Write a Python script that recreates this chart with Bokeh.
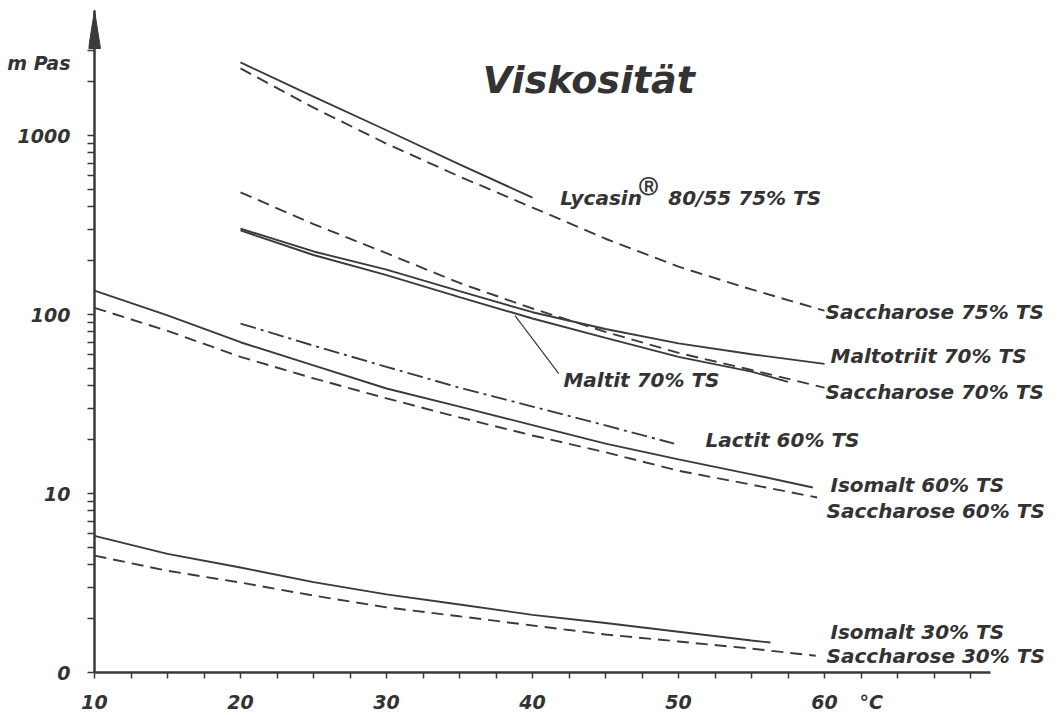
from bokeh.plotting import figure
from bokeh.models import FixedTicker, BasicTickFormatter
from bokeh.core.properties import value
from bokeh.embed import file_html
from bokeh.resources import INLINE

# ---------------- data (temperature in °C, viscosity in mPa·s) ----------------
lycasin_t = [20, 25, 30, 35, 40]
lycasin_v = [2560, 1650, 1070, 690, 450]
sac75_t = [20, 25, 30, 35, 40, 45, 50, 55, 60]
sac75_v = [2370, 1430, 900, 590, 396, 265, 185, 138, 105]
sac70_t = [20, 25, 30, 35, 40, 45, 50, 55, 60]
sac70_v = [481, 320, 220, 150, 108, 80, 61, 49, 39]
maltotriit_t = [20, 25, 30, 35, 40, 45, 50, 55, 60]
maltotriit_v = [302, 225, 178, 135, 103, 83, 69, 60, 53]
maltit_t = [20, 25, 30, 35, 40, 45, 50, 55, 57.5]
maltit_v = [295, 215, 166, 125, 95, 74, 58, 48, 42]
lactit_t = [20, 25, 30, 35, 40, 45, 49.7]
lactit_v = [89, 67, 51, 39, 30.6, 24, 19]
isomalt60_t = [10, 15, 20, 25, 30, 35, 40, 45, 50, 55, 59.2]
isomalt60_v = [136, 99, 70, 52, 38.6, 30.6, 24.1, 19, 15.5, 12.8, 10.8]
sac60_t = [10, 15, 20, 25, 30, 35, 40, 45, 50, 55, 59.5]
sac60_v = [109, 81, 58, 44, 34, 26.6, 21.1, 17, 13.4, 11.2, 9.5]
isomalt30_t = [10, 15, 20, 25, 30, 35, 40, 45, 50, 55, 56.3]
isomalt30_v = [5.8, 4.6, 3.86, 3.2, 2.73, 2.4, 2.1, 1.89, 1.69, 1.51, 1.47]
sac30_t = [10, 15, 20, 25, 30, 35, 40, 45, 50, 55, 59.4]
sac30_v = [4.5, 3.7, 3.18, 2.69, 2.31, 2.06, 1.83, 1.63, 1.49, 1.36, 1.24]

# tick values / labels (the unit names sit in the tick-label rows)
x_ticks = [10, 20, 30, 40, 50, 60, 63.2]
x_tick_labels = ["10", "20", "30", "40", "50", "60", "°C"]
x_tick_marks = [10, 12.5, 15, 17.5, 20, 22.5, 25, 27.5, 30, 32.5, 35, 37.5, 40,
                42.5, 45, 47.5, 50, 52.5, 55, 57.5, 60, 62.5, 65, 67.5, 70]
y_ticks = [1, 10, 100, 1000, 2525]
y_tick_labels = ["0", "10", "100", "1000", "m Pas"]
y_tick_marks = [1, 2, 3, 4, 5, 6, 7, 8, 9, 10, 20, 30, 40, 50, 60, 70, 80, 90,
                100, 200, 300, 400, 500, 600, 700, 800, 900, 1000, 2000, 3000]

# curve labels: (text, anchor temperature, anchor viscosity)
label_text = ["Lycasin", "80/55 75% TS", "Saccharose 75% TS", "Maltotriit 70% TS",
              "Saccharose 70% TS", "Maltit 70% TS", "Lactit 60% TS",
              "Isomalt 60% TS", "Saccharose 60% TS", "Isomalt 30% TS",
              "Saccharose 30% TS"]
label_t = [41.9, 49.3, 60.07, 60.41, 60.07, 42.12, 51.85, 60.41, 60.14, 60.41, 60.14]
label_v = [447, 447, 103, 59, 36.7, 42.8, 20, 11.2, 8.0, 1.69, 1.24]

# ---------------- layout constants ----------------
INK = "#333333"
LINE = "#3a3a3a"
FONT = "DejaVu Sans"
PX_PER_DEG = 14.6
PX_PER_DEC = 179.0
W, H = 1057, 715
AXIS_GAP = 6          # px between frame edge and drawn y axis line
LEFT = 94 - AXIS_GAP
BOTTOM = 43
FRAME_W = W - LEFT
FRAME_H = H - BOTTOM
x_start = 10 - AXIS_GAP / PX_PER_DEG
x_end = x_start + FRAME_W / PX_PER_DEG
y_end = 10 ** (FRAME_H / PX_PER_DEC)
x_axis_end = 71.4

p = figure(width=W, height=H, x_range=(x_start, x_end), y_range=(1, y_end),
           y_axis_type="log", output_backend="svg", toolbar_location=None,
           min_border_left=LEFT, min_border_right=0, min_border_top=0,
           min_border_bottom=BOTTOM)
p.outline_line_color = None
p.grid.visible = False
p.background_fill_color = "white"
p.border_fill_color = "white"

# x axis
xa = p.xaxis[0]
xa.ticker = FixedTicker(ticks=x_ticks, minor_ticks=x_tick_marks)
xa.major_label_overrides = {t: s for t, s in zip(x_ticks, x_tick_labels)}
xa.bounds = (10, x_axis_end)
xa.axis_line_color = LINE
xa.axis_line_width = 2.5
xa.major_tick_line_color = None
xa.major_tick_in = 0
xa.major_tick_out = 0
xa.minor_tick_in = 0
xa.minor_tick_out = 6
xa.minor_tick_line_color = LINE
xa.minor_tick_line_width = 1.5
xa.major_label_text_font = FONT
xa.major_label_text_font_style = "bold italic"
xa.major_label_text_font_size = "19px"
xa.major_label_text_color = INK
xa.major_label_standoff = 12

# y axis (its line is drawn separately at x = 10, ticks reach from frame edge)
ya = p.yaxis[0]
ya.ticker = FixedTicker(ticks=y_ticks, minor_ticks=y_tick_marks)
ya.formatter = BasicTickFormatter(use_scientific=False)
ya.major_label_overrides = {t: s for t, s in zip(y_ticks, y_tick_labels)}
ya.axis_line_color = None
ya.major_tick_line_color = None
ya.major_tick_in = 0
ya.major_tick_out = 0
ya.minor_tick_in = AXIS_GAP
ya.minor_tick_out = 1
ya.minor_tick_line_color = LINE
ya.minor_tick_line_width = 1.5
ya.major_label_text_font = FONT
ya.major_label_text_font_style = "bold italic"
ya.major_label_text_font_size = "19px"
ya.major_label_text_color = INK
ya.major_label_standoff = 17

# y axis line with arrow head
arrow_tip_px, arrow_len_px, arrow_half_px = 10, 38, 6
arrow_tip = y_end / 10 ** (arrow_tip_px / PX_PER_DEC)
arrow_base = y_end / 10 ** ((arrow_tip_px + arrow_len_px) / PX_PER_DEC)
aw = arrow_half_px / PX_PER_DEG
p.segment(x0=[10], y0=[1], x1=[10], y1=[arrow_tip], line_color=LINE, line_width=2.5)
p.patch([10 - aw, 10, 10 + aw], [arrow_base, arrow_tip, arrow_base],
        fill_color=LINE, line_color=LINE, line_width=1)

# curves
solid = dict(line_color=LINE, line_width=1.9)
dashed = dict(line_color=LINE, line_width=1.9, line_dash="12 7")
dashdot = dict(line_color=LINE, line_width=1.9, line_dash="16 5 3 5")

p.line(lycasin_t, lycasin_v, **solid)
p.line(sac75_t, sac75_v, **dashed)
p.line(sac70_t, sac70_v, **dashed)
p.line(maltotriit_t, maltotriit_v, **solid)
p.line(maltit_t, maltit_v, **solid)
p.line(lactit_t, lactit_v, **dashdot)
p.line(isomalt60_t, isomalt60_v, **solid)
p.line(sac60_t, sac60_v, **dashed)
p.line(isomalt30_t, isomalt30_v, **solid)
p.line(sac30_t, sac30_v, **dashed)

# leader line for the Maltit label
p.line([38.8, 41.8], [98.7, 46.8], line_color=LINE, line_width=1.2)

# curve labels
p.text(x=label_t, y=label_v, text=label_text, text_font=value(FONT),
       text_font_style="bold italic", text_font_size="20px",
       text_color=INK, text_baseline="middle", text_align="left")
# registered-trademark mark after "Lycasin"
p.text(x=[47.3], y=[520], text=["Ⓡ"], text_font=value(FONT),
       text_font_style="bold", text_font_size="19px",
       text_color=INK, text_baseline="middle", text_align="left")

# title
p.text(x=[36.6], y=[2030], text=["Viskosität"], text_font=value(FONT),
       text_font_style="bold italic", text_font_size="38px",
       text_color=INK, text_baseline="middle", text_align="left")

open("out.html", "w").write(file_html(p, INLINE))
